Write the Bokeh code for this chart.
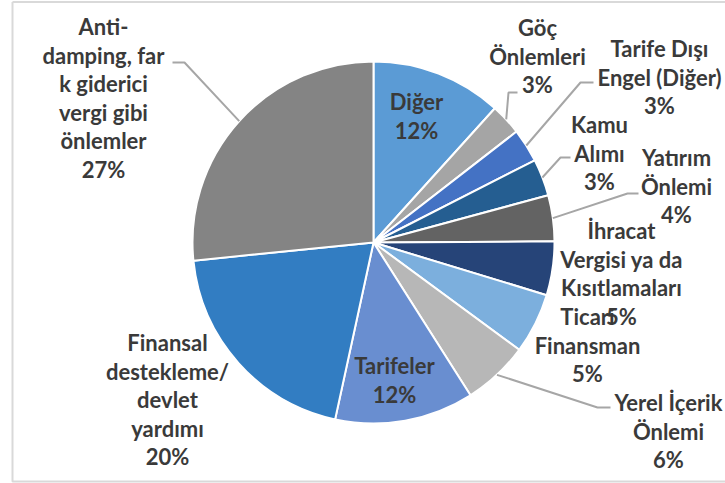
import math
from bokeh.plotting import figure
from bokeh.models import Range1d, ColumnDataSource
from bokeh.core.properties import value
from bokeh.embed import file_html
from bokeh.resources import INLINE

# ---------------- data ----------------
categories = ["Diğer", "Göç Önlemleri", "Tarife Dışı Engel (Diğer)", "Kamu Alımı",
              "Yatırım Önlemi", "İhracat Vergisi ya da Kısıtlamaları", "Ticari Finansman",
              "Yerel İçerik Önlemi", "Tarifeler", "Finansal destekleme/ devlet yardımı",
              "Anti-damping, fark giderici vergi gibi önlemler"]
shares = [11.7, 2.8, 3.0, 3.3, 4.1, 4.8, 5.4, 5.9, 12.4, 20.0, 26.6]
wrapped_labels = ["Diğer", "Göç\nÖnlemleri", "Tarife Dışı\nEngel (Diğer)", "Kamu\nAlımı",
                  "Yatırım\nÖnlemi", "İhracat\nVergisi ya da\nKısıtlamaları", "Ticari\nFinansman",
                  "Yerel İçerik\nÖnlemi", "Tarifeler", "Finansal\ndestekleme/\ndevlet\nyardımı",
                  "Anti-\ndamping, far\nk giderici\nvergi gibi\nönlemler"]
colors = ["#5B9BD5", "#A5A5A5", "#4472C4", "#255E91", "#636363", "#264478",
          "#7CAFDD", "#B7B7B7", "#698ED0", "#327DC2", "#848484"]

# ---------------- layout (pixel space, y downwards) ----------------
W, H = 725, 483
CX, CY, R = 373, 242, 181
LINE_STEP = 28.6
# centre x and first-line y of each label
label_pos = [(416, 101), (537, 27), (659, 48), (599, 124), (676, 157), (621, 230),
             (587, 316), (668, 402), (394, 365), (167, 342), (103, 26)]
# leader lines: (label-side x, y, elbow x) or None
leaders = [None, (517, 92, 508), (593, 82, 580), (570, 157, 560), (638, 193, 627),
           None, None, (610, 407, 597), None, None, (172, 62, 184)]

def Y(y):
    return H - y

p = figure(width=W, height=H, output_backend="svg", toolbar_location=None,
           x_range=Range1d(0, W), y_range=Range1d(0, H), min_border=0,
           outline_line_color=None, background_fill_color="white",
           border_fill_color="white")
p.axis.visible = False
p.grid.visible = False

# chart frame
p.line([12, 12, W + 10], [Y(1.5), Y(481), Y(481)], line_color="#D9D9D9", line_width=2)
p.line([12, W + 10], [Y(1.5), Y(1.5)], line_color="#D9D9D9", line_width=2)

total = sum(shares)
starts, ends, mids = [], [], []
c = 0.0
for v in shares:
    a0 = c / total
    c += v
    a1 = c / total
    starts.append(math.pi / 2 - 2 * math.pi * a0)
    ends.append(math.pi / 2 - 2 * math.pi * a1)
    mids.append(2 * math.pi * (a0 + a1) / 2)  # clockwise from top

src = ColumnDataSource(dict(start=starts, end=ends, color=colors, name=categories))
p.wedge(x=CX, y=Y(CY), radius=R, start_angle="start", end_angle="end",
        direction="clock", fill_color="color", line_color="white", line_width=2,
        source=src)

# leader lines
for i, ld in enumerate(leaders):
    if ld is None:
        continue
    lx, ly, ex = ld
    m = mids[i]
    px = CX + R * math.sin(m)
    py = CY - R * math.cos(m)
    p.line([lx, ex, px], [Y(ly), Y(ly), Y(py)], line_color="#A6A6A6", line_width=2)

# labels
tx, ty, tt = [], [], []
for i, lab in enumerate(wrapped_labels):
    lines = lab.split("\n") + [f"{round(shares[i] / total * 100)}%"]
    x0, y0 = label_pos[i]
    for k, ln in enumerate(lines):
        tx.append(x0)
        ty.append(Y(y0 + k * LINE_STEP))
        tt.append(ln)

p.text(x=tx, y=ty, text=tt, text_font=value("Lato"), text_font_style="bold",
       text_font_size="22px", text_color="#3A3A3A", text_align="center",
       text_baseline="middle")

open("out.html", "w").write(file_html(p, INLINE))
